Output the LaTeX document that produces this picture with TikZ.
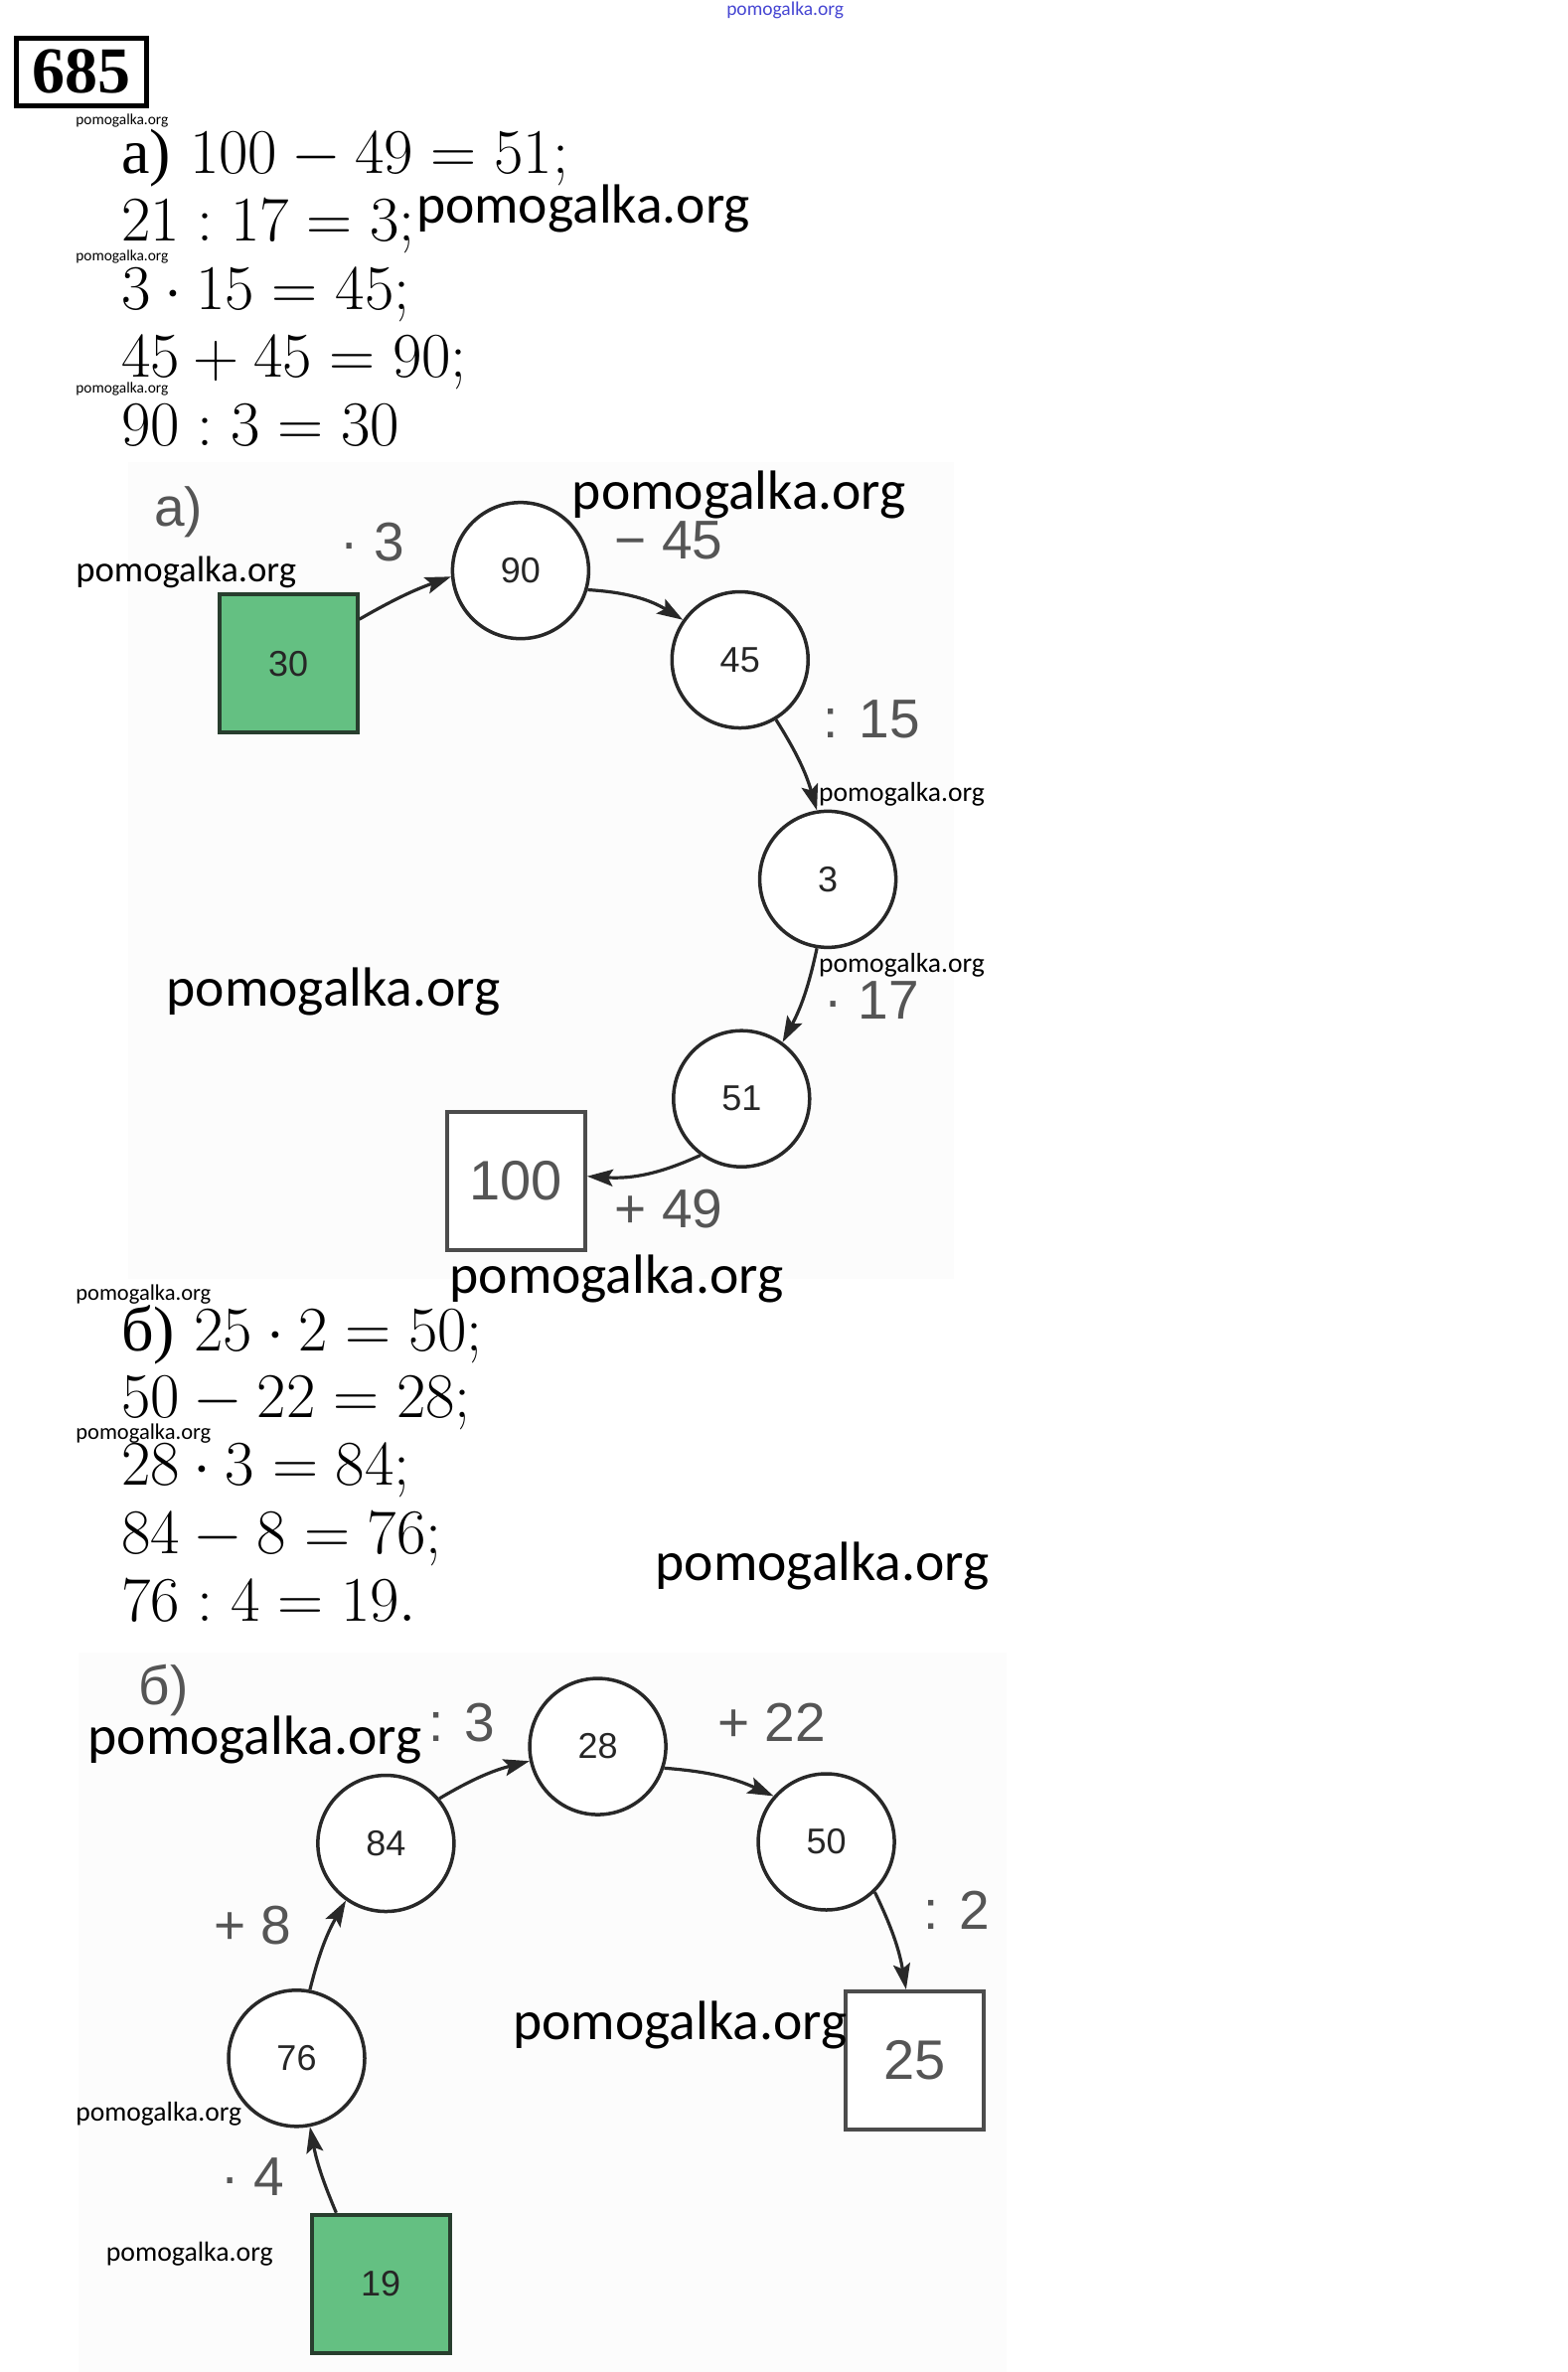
\RequirePackage{fix-cm}
\documentclass[tikz,border=0pt]{standalone}
\usepackage{fontspec}
\usetikzlibrary{arrows.meta}
\newfontfamily\cyrserif{Liberation Serif}
\newfontfamily\wmfont{Carlito}
\newfontfamily\lblfont{Liberation Sans}
\newcommand\setfs[1]{\fontsize{#1}{#1}\selectfont}
\definecolor{lblgray}{RGB}{85,85,85}
\definecolor{linegray}{RGB}{40,40,40}
\definecolor{boxgreen}{RGB}{100,192,130}
\definecolor{greenborder}{RGB}{40,62,46}
\definecolor{wmblue}{RGB}{70,70,210}
\definecolor{photobg}{RGB}{252,252,252}
\begin{document}
\begin{tikzpicture}[x=1.523pt,y=-1.523pt,
  circ/.style={circle, draw=linegray, line width=3.5pt, minimum size=137pt, inner sep=0pt,
    fill=white, font=\lblfont\setfs{36}, text=black!85},
  sqg/.style={rectangle, draw=greenborder, line width=4pt, fill=boxgreen, minimum size=139pt,
    inner sep=0pt, font=\lblfont\setfs{36}, text=black!85},
  sqw/.style={rectangle, draw=black!70, line width=4pt, fill=white, minimum size=139pt,
    inner sep=0pt, font=\lblfont\setfs{56}, text=lblgray},
  lbl/.style={inner sep=0pt, font=\lblfont\setfs{55}, text=lblgray},
  arr/.style={-{Stealth[length=26pt,width=17pt,inset=5pt]}, draw=linegray, line width=3.2pt},
  eq/.style={anchor=base west, inner sep=0pt, font=\setfs{64}},
  wm/.style={anchor=west, inner sep=0pt, text=black},
]
\useasboundingbox (0,0) rectangle (1035.5,1567.3);

% faint photo backgrounds
\fill[photobg] (85,305) rectangle (630,845);
\fill[photobg] (52,1092) rectangle (665,1567.3);

% header
\node[draw=black, line width=4.5pt, minimum width=131pt, minimum height=68pt, inner sep=0pt,
  font=\cyrserif\bfseries\setfs{66}] (box685) at (54,47.5) {685};

% equations a)
\node[eq] (e1) at (80,114.5) {{\cyrserif а)} $100-49=51;$};
\node[eq] (e2) at (80,159.5) {$21:17=3;$};
\node[eq] (e3) at (80,204.5) {$3\cdot15=45;$};
\node[eq] (e4) at (80,249.5) {$45+45=90;$};
\node[eq] (e5) at (80,294.5) {$90:3=30$};

% diagram a)
\node[lbl] (la) at (118,338) {а)};
\node[sqg] (s30) at (190.5,438.5) {30};
\node[circ] (c90) at (344,377) {90};
\node[circ] (c45) at (489,436) {45};
\node[circ] (c3) at (547,581) {3};
\node[circ] (c51) at (490,726) {51};
\node[sqw] (s100) at (341,780.5) {100};

\node[lbl] (t1) at (246,358) {· 3};
\node[lbl] (t2) at (442,357) {− 45};
\node[lbl] (t3) at (576,475) {: 15};
\node[lbl] (t4) at (576,661) {· 17};
\node[lbl] (t5) at (442,799) {+ 49};

\draw[arr] (s30.32) to[bend left=5] (c90.185);
\draw[arr] (c90.-16) to[bend left=14] (c45.145);
\draw[arr] (c45.-59) to[bend left=8] (c3.99);
\draw[arr] (c3.-99) to[bend left=8] (c51.54);
\draw[arr] (c51.234) to[bend left=14] (s100.4);

% equations b)
\node[eq] (e6) at (80,892.5) {{\cyrserif б)} $25\cdot2=50;$};
\node[eq] (e7) at (80,936.5) {$50-22=28;$};
\node[eq] (e8) at (80,981.5) {$28\cdot3=84;$};
\node[eq] (e9) at (80,1026.5) {$84-8=76;$};
\node[eq] (e10) at (80,1071.5) {$76:4=19.$};

% diagram b)
\node[lbl] (lb) at (108,1117) {б)};
\node[circ] (c28) at (395,1154) {28};
\node[circ] (c84) at (255,1218) {84};
\node[circ] (c50) at (546,1217) {50};
\node[circ] (c76) at (196,1360) {76};
\node[sqw] (s25) at (604.5,1361.5) {25};
\node[sqg] (s19) at (251.5,1509) {19};

\node[lbl] (u1) at (305,1138) {: 3};
\node[lbl] (u2) at (510,1138) {+ 22};
\node[lbl] (u3) at (167,1272) {+ 8};
\node[lbl] (u4) at (632,1262) {: 2};
\node[lbl] (u5) at (167,1438) {· 4};

\draw[arr] (s19.122) to[bend left=6] (c76.-79);
\draw[arr] (c76.79) to[bend left=8] (c84.235);
\draw[arr] (c84.40) to[bend left=8] (c28.192);
\draw[arr] (c28.-18) to[bend left=10] (c50.139);
\draw[arr] (c50.-46) to[bend left=8] (s25.97);

% watermarks
\node[wm, text=wmblue, font=\wmfont\setfs{19.5}] (w0) at (480,7) {pomogalka.org};
\node[wm, font=\wmfont\setfs{15.4}] (w1) at (50,80) {pomogalka.org};
\node[wm, font=\wmfont\setfs{55.6}] (w2) at (275,138) {pomogalka.org};
\node[wm, font=\wmfont\setfs{15.4}] (w3) at (50,170) {pomogalka.org};
\node[wm, font=\wmfont\setfs{15.4}] (w4) at (50,257) {pomogalka.org};
\node[wm, font=\wmfont\setfs{55.6}] (w5) at (378,327) {pomogalka.org};
\node[wm, font=\wmfont\setfs{36.7}] (w6) at (50,378) {pomogalka.org};
\node[wm, font=\wmfont\setfs{27.6}] (w7) at (541,525) {pomogalka.org};
\node[wm, font=\wmfont\setfs{27.6}] (w8) at (541,638) {pomogalka.org};
\node[wm, font=\wmfont\setfs{55.6}] (w9) at (110,655) {pomogalka.org};
\node[wm, font=\wmfont\setfs{55.6}] (w10) at (297,845) {pomogalka.org};
\node[wm, font=\wmfont\setfs{22.5}] (w11) at (50,855) {pomogalka.org};
\node[wm, font=\wmfont\setfs{22.5}] (w12) at (50,947) {pomogalka.org};
\node[wm, font=\wmfont\setfs{55.6}] (w13) at (433,1035) {pomogalka.org};
\node[wm, font=\wmfont\setfs{55.6}] (w14) at (58,1150) {pomogalka.org};
\node[wm, font=\wmfont\setfs{55.6}] (w15) at (339,1338) {pomogalka.org};
\node[wm, font=\wmfont\setfs{27.6}] (w16) at (50,1397) {pomogalka.org};
\node[wm, font=\wmfont\setfs{27.8}] (w17) at (70,1489) {pomogalka.org};
\end{tikzpicture}
\end{document}
